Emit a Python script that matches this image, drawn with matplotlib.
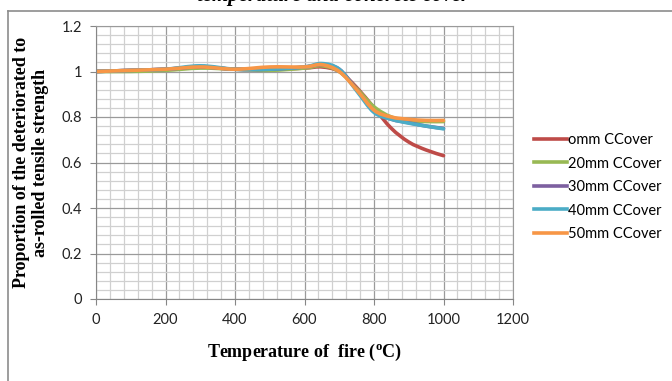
import numpy as np
import matplotlib.pyplot as plt
from matplotlib.path import Path
from matplotlib.patches import PathPatch
from matplotlib.lines import Line2D
from matplotlib.ticker import MultipleLocator

# temperature (C)
temps = [0, 100, 200, 300, 400, 500, 600, 650, 700, 750, 800, 850, 900, 950, 1000]

# proportion of deteriorated to as-rolled tensile strength
cover_0 = [1.0, 1.005, 1.01, 1.02, 1.01, 1.01, 1.015, 1.02, 1.0, 0.93, 0.84, 0.75, 0.69, 0.655, 0.63]
cover_20 = [1.0, 1.0, 1.005, 1.015, 1.01, 1.005, 1.015, 1.025, 1.0, 0.925, 0.845, 0.80, 0.785, 0.78, 0.78]
cover_30 = [1.0, 1.005, 1.01, 1.02, 1.01, 1.01, 1.02, 1.03, 1.01, 0.92, 0.825, 0.79, 0.775, 0.76, 0.75]
cover_40 = [1.0, 1.005, 1.01, 1.025, 1.01, 1.01, 1.02, 1.035, 1.01, 0.915, 0.82, 0.79, 0.773, 0.76, 0.748]
cover_50 = [1.0, 1.005, 1.01, 1.02, 1.01, 1.02, 1.02, 1.03, 1.0, 0.92, 0.83, 0.80, 0.79, 0.785, 0.785]

labels = ['omm CCover', '20mm CCover', '30mm CCover', '40mm CCover', '50mm CCover']
colors = ['#BE4B48', '#98B954', '#7D60A0', '#4BACC6', '#F79646']


def smooth_path(x, y):
    # excel style smoothed line: cubic bezier segments through the points
    x = np.asarray(x, float)
    y = np.asarray(y, float)
    verts = [(x[0], y[0])]
    codes = [Path.MOVETO]
    n = len(x)
    for i in range(n - 1):
        x0, y0 = (x[i - 1], y[i - 1]) if i > 0 else (x[i], y[i])
        x3, y3 = (x[i + 2], y[i + 2]) if i + 2 < n else (x[i + 1], y[i + 1])
        c1 = (x[i] + (x[i + 1] - x0) / 6, y[i] + (y[i + 1] - y0) / 6)
        c2 = (x[i + 1] - (x3 - x[i]) / 6, y[i + 1] - (y3 - y[i]) / 6)
        verts += [c1, c2, (x[i + 1], y[i + 1])]
        codes += [Path.CURVE4] * 3
    return Path(verts, codes)


fig = plt.figure(figsize=(6.72, 3.81), dpi=100)
ax = fig.add_axes([96 / 672, 1 - 299 / 381, (513 - 96) / 672, (299 - 26) / 381])

handles = []
for ys, lab, c in zip([cover_0, cover_20, cover_30, cover_40, cover_50], labels, colors):
    ax.add_patch(PathPatch(smooth_path(temps, ys), facecolor='none', edgecolor=c,
                           lw=2.6, capstyle='round', joinstyle='round'))
    handles.append(Line2D([], [], color=c, lw=2.6, label=lab))

ax.set_xlim(0, 1200)
ax.set_ylim(0, 1.2)
ax.xaxis.set_major_locator(MultipleLocator(200))
ax.xaxis.set_minor_locator(MultipleLocator(40))
ax.yaxis.set_minor_locator(MultipleLocator(0.04))
ax.set_yticks([0, 0.2, 0.4, 0.6, 0.8, 1.0, 1.2])
ax.set_yticklabels(['0', '0.2', '0.4', '0.6', '0.8', '1', '1.2'])
ax.grid(which='major', color='#9A9A9A', lw=0.9)
ax.grid(which='minor', color='#D0D0D0', lw=0.9)
ax.set_axisbelow(True)
ax.tick_params(which='minor', length=0)
ax.tick_params(which='major', length=4, direction='out', color='#868686',
               labelsize=10.5, pad=6)
for lbl in ax.get_xticklabels() + ax.get_yticklabels():
    lbl.set_family('Lato')
    lbl.set_color('#222222')
for s in ['top', 'right']:
    ax.spines[s].set_color('#9A9A9A')
for s in ['left', 'bottom']:
    ax.spines[s].set_color('#868686')

ax.set_xlabel('Temperature of  fire ($^{\\mathregular{o}}$C)', family='Liberation Serif',
              fontweight='bold', fontsize=13, labelpad=11)
ax.set_ylabel('Proportion of the deteriorated to\nas-rolled tensile strength',
              family='Liberation Serif', fontweight='bold', fontsize=13, labelpad=9)

ax.legend(handles=handles, loc='center left', bbox_to_anchor=(1.02, 0.41), frameon=False,
          prop={'family': 'Lato', 'size': 10.5}, handlelength=2.2,
          handletextpad=0.1, labelspacing=0.65)

# clipped chart title and outer frame
fig.text(333 / 672, 1 - 6.5 / 381, 'temperature and concrete cover', ha='center', va='bottom',
         fontsize=15, fontweight='bold', fontstyle='italic', family='Liberation Serif')
fig.add_artist(Line2D([8 / 672, 8 / 672], [0, 1 - 11 / 381], color='#8C8C8C', lw=1.2))
fig.add_artist(Line2D([8 / 672, 1], [1 - 11 / 381, 1 - 11 / 381], color='#8C8C8C', lw=1.2))

fig.savefig('out.png', dpi=100)
